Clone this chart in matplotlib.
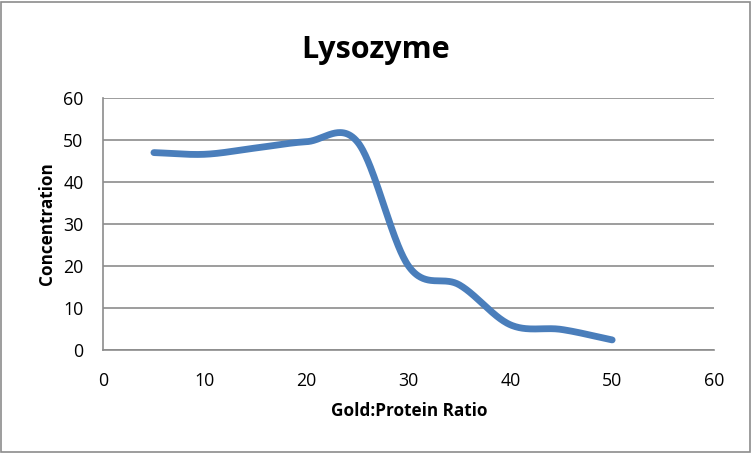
import numpy as np
import matplotlib
matplotlib.use("Agg")
import matplotlib.pyplot as plt
from matplotlib.patches import Rectangle

ratio = [5, 10, 15, 20, 25, 30, 35, 40, 45, 50]
concentration = [47.0, 46.6, 48.1, 49.6, 49.5, 20.0, 15.5, 6.0, 4.9, 2.4]
x_ticks = [0, 10, 20, 30, 40, 50, 60]
y_ticks = [0, 10, 20, 30, 40, 50, 60]


def smooth(xs, ys, n=60):
    xs = np.asarray(xs, float)
    ys = np.asarray(ys, float)
    px = np.concatenate([[2 * xs[0] - xs[1]], xs, [2 * xs[-1] - xs[-2]]])
    py = np.concatenate([[2 * ys[0] - ys[1]], ys, [2 * ys[-1] - ys[-2]]])
    ox, oy = [], []
    for i in range(1, len(px) - 2):
        p0, p1, p2, p3 = (np.array([px[j], py[j]]) for j in (i - 1, i, i + 1, i + 2))
        c1 = p1 + (p2 - p0) / 6.0
        c2 = p2 - (p3 - p1) / 6.0
        t = np.linspace(0, 1, n)[:, None]
        b = ((1 - t) ** 3) * p1 + 3 * ((1 - t) ** 2) * t * c1 + 3 * (1 - t) * t ** 2 * c2 + t ** 3 * p2
        ox.extend(b[:, 0]); oy.extend(b[:, 1])
    return np.array(ox), np.array(oy)


plt.rcParams['font.family'] = ['Open Sans', 'DejaVu Sans']

W, H = 752, 453
fig = plt.figure(figsize=(W / 100, H / 100), dpi=100)
ax = fig.add_axes([103 / W, 1 - 350 / H, (714 - 103) / W, (350 - 98) / H])

sx, sy = smooth(ratio, concentration)
ax.plot(sx, sy, color='#4A7EBB', lw=4.9, solid_capstyle='round', solid_joinstyle='round', zorder=3)

ax.set_xlim(0, 60)
ax.set_ylim(0, 60)
ax.set_xticks(x_ticks)
ax.set_yticks(y_ticks)
ax.tick_params(axis='both', length=0, labelsize=12.8)
ax.tick_params(axis='y', pad=14)
ax.tick_params(axis='x', pad=16)
ax.grid(axis='y', color='#8C8C8C', lw=1.2)
ax.set_axisbelow(True)
for s in ['top', 'right']:
    ax.spines[s].set_visible(False)
for s in ['left', 'bottom']:
    ax.spines[s].set_color('#8C8C8C')
    ax.spines[s].set_linewidth(1.2)

fig.text(409 / W, 1 - 411 / H, 'Gold:Protein Ratio', ha='center', va='center', fontsize=12.3, fontweight='bold')
fig.text(47 / W, 1 - 224 / H, 'Concentration', ha='center', va='center', rotation=90, fontsize=12.3, fontweight='bold')
fig.text(376 / W, 1 - 50 / H, 'Lysozyme', ha='center', va='center', fontsize=22, fontweight='bold')

fig.patches.append(Rectangle((1 / W, 1 / H), (W - 3) / W, (H - 3) / H, transform=fig.transFigure,
                             fill=False, edgecolor='#8C8C8C', lw=1.2))

fig.savefig('out.png', dpi=100)
